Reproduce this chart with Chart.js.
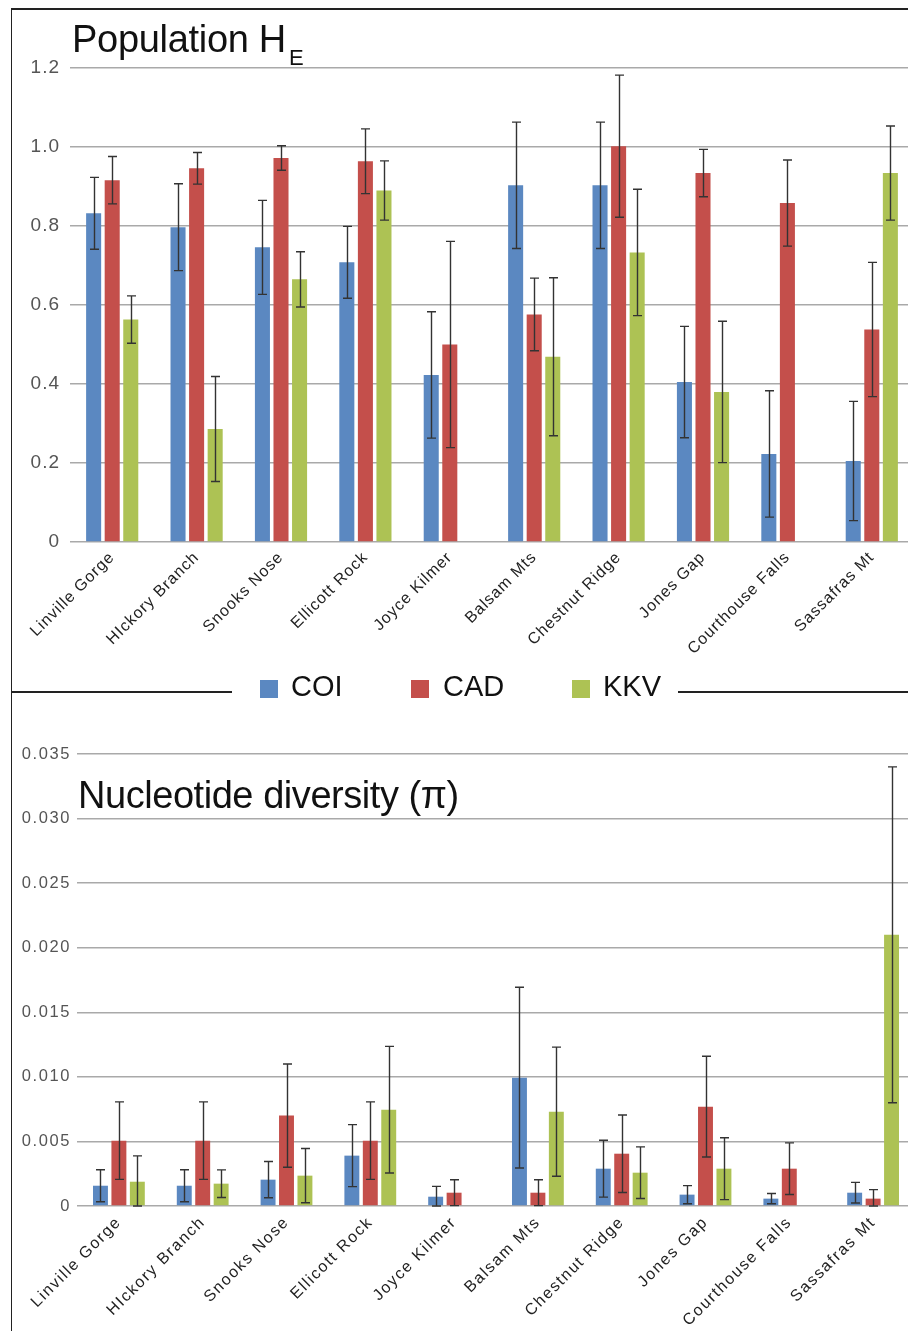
<!DOCTYPE html>
<html>
<head>
<meta charset="utf-8">
<script src="https://cdn.jsdelivr.net/npm/chart.js@4/dist/chart.umd.min.js"></script>
<style>
html,body{margin:0;padding:0;background:#fff;}
#wrap{position:relative;width:908px;height:1331px;overflow:hidden;font-family:"Liberation Sans",Arial,Helvetica,sans-serif;}
canvas{position:absolute;left:0;}
#c1{top:0;}
#c2{top:700px;}
.ln{position:absolute;background:#222;z-index:5;}
.title{position:absolute;z-index:6;color:#111;line-height:1;white-space:nowrap;}
.sw{position:absolute;width:18px;height:18px;z-index:6;}
.lt{position:absolute;z-index:6;font-size:29px;line-height:1;color:#111;white-space:nowrap;}
</style>
</head>
<body>
<div id="wrap">
  <canvas id="c1" width="916" height="660"></canvas>
  <canvas id="c2" width="916" height="631"></canvas>
  <div class="ln" style="left:11px;top:8px;width:897px;height:1.5px;"></div>
  <div class="ln" style="left:10.5px;top:8px;width:1.5px;height:1323px;"></div>
  <div class="ln" style="left:11px;top:691px;width:221px;height:1.5px;"></div>
  <div class="ln" style="left:678px;top:691px;width:230px;height:1.5px;"></div>
  <div class="title" style="left:72px;top:20px;font-size:38px;letter-spacing:-0.3px;">Population H</div>
  <div class="title" style="left:289px;top:47px;font-size:22px;">E</div>
  <div class="title" style="left:78px;top:776px;font-size:38px;letter-spacing:-0.45px;">Nucleotide diversity (π)</div>
  <div id="legend"></div>
</div>
<script>
// ---- data ----
const sites = ["Linville Gorge","HIckory Branch","Snooks Nose","Ellicott Rock","Joyce Kilmer","Balsam Mts","Chestnut Ridge","Jones Gap","Courthouse Falls","Sassafras Mt"];
const seriesNames = ["COI","CAD","KKV"];
const seriesColors = ["#5B88C1","#C44F4B","#ADC254"];

// Population HE
const heCOI = [0.832,0.797,0.746,0.708,0.423,0.903,0.903,0.405,0.223,0.205];
const heCAD = [0.916,0.946,0.972,0.964,0.500,0.576,1.002,0.934,0.858,0.538];
const heKKV = [0.563,0.286,0.665,0.890,0,0.469,0.733,0.380,0,0.934];
const heCOIerr = [0.091,0.110,0.119,0.091,0.160,0.160,0.160,0.141,0.160,0.151];
const heCADerr = [0.060,0.040,0.031,0.082,0.261,0.092,0.180,0.060,0.109,0.170];
const heKKVerr = [0.060,0.133,0.070,0.075,0,0.200,0.160,0.179,0,0.119];
const heTicks = [0,0.2,0.4,0.6,0.8,1.0,1.2];

// Nucleotide diversity (pi)
const piCOI = [0.00157,0.00157,0.00204,0.0039,0.00072,0.00994,0.00289,0.00088,0.00057,0.00103];
const piCAD = [0.00506,0.00506,0.0070,0.00506,0.00103,0.00103,0.00405,0.00769,0.00289,0.00057];
const piKKV = [0.00188,0.00173,0.00235,0.00746,0,0.0073,0.00258,0.00289,0,0.0210];
const piCOIerr = [0.00124,0.00124,0.0014,0.0024,0.0008,0.0070,0.0022,0.0007,0.0004,0.0008];
const piCADerr = [0.003,0.003,0.004,0.003,0.001,0.001,0.003,0.0039,0.002,0.0007];
const piKKVerr = [0.002,0.00107,0.0021,0.0049,0,0.005,0.002,0.0024,0,0.013];
const piTicks = [0,0.005,0.010,0.015,0.020,0.025,0.030,0.035];

// ---- legend (HTML) ----
const legendPos = [[260,291],[411,443],[572,603]];
const lg = document.getElementById('legend');
seriesNames.forEach((n,i)=>{
  const s = document.createElement('div'); s.className='sw';
  s.style.left = legendPos[i][0]+'px'; s.style.top='680px'; s.style.background=seriesColors[i];
  const t = document.createElement('div'); t.className='lt';
  t.style.left = legendPos[i][1]+'px'; t.style.top='672px'; t.textContent=n;
  lg.appendChild(s); lg.appendChild(t);
});

// ---- plugins ----
Chart.defaults.font.family = '"Liberation Sans", Arial, Helvetica, sans-serif';

const errorBars = {
  id:'errorBars',
  afterDatasetsDraw(chart, args, opts){
    const ctx = chart.ctx, ys = chart.scales.y;
    ctx.save();
    ctx.strokeStyle = opts.color || '#333';
    ctx.lineWidth = opts.width || 1.4;
    const cap = opts.cap || 4.5;
    chart.data.datasets.forEach((ds,di)=>{
      const meta = chart.getDatasetMeta(di);
      meta.data.forEach((bar,i)=>{
        const e = ds.errors[i];
        if(!e) return;
        const v = ds.data[i];
        const yHi = ys.getPixelForValue(v+e);
        const yLo = ys.getPixelForValue(Math.max(0, v-e));
        const x = Math.round(bar.x)+0.5;
        ctx.beginPath();
        ctx.moveTo(x,yHi); ctx.lineTo(x,yLo);
        ctx.moveTo(x-cap,yHi); ctx.lineTo(x+cap,yHi);
        ctx.moveTo(x-cap,yLo); ctx.lineTo(x+cap,yLo);
        ctx.stroke();
      });
    });
    ctx.restore();
  }
};

const spacing = {
  id:'spacing',
  beforeDraw(chart, args, opts){ chart.ctx.letterSpacing = opts.value || '0px'; },
  afterDraw(chart){ chart.ctx.letterSpacing = '0px'; }
};

function makeDatasets(vals, errs){
  return seriesNames.map((n,i)=>({
    label:n, data:vals[i], errors:errs[i],
    backgroundColor:seriesColors[i], borderWidth:0,
    categoryPercentage:0.66, barPercentage:0.81
  }));
}

function makeChart(id, vals, errs, tickVals, fmt, cfg){
  return new Chart(document.getElementById(id), {
    type:'bar',
    data:{ labels:sites, datasets:makeDatasets(vals, errs) },
    plugins:[errorBars, spacing],
    options:{
      responsive:false, animation:false,
      layout:{ padding:{ top:cfg.padTop, right:cfg.padRight, left:0, bottom:0 } },
      plugins:{ legend:{display:false}, tooltip:{enabled:false}, title:{display:false},
        errorBars:{ color:'#333', width:1.4, cap:4.5 },
        spacing:{ value:cfg.spacing } },
      scales:{
        x:{
          grid:{ display:false, drawTicks:false }, border:{ display:false },
          ticks:{ minRotation:45, maxRotation:45, autoSkip:false, color:'#222', font:{ size:16 }, padding:cfg.xPad },
          afterFit(s){ s.height = cfg.xHeight; }
        },
        y:{
          min:0, max:tickVals[tickVals.length-1],
          afterBuildTicks(s){ s.ticks = tickVals.map(v=>({value:v})); },
          grid:{ color:'#a9a9a9', lineWidth:1.5, drawTicks:false }, border:{ display:false },
          ticks:{ color:'#555', font:{ size:cfg.yFont }, padding:cfg.yPad, callback:fmt },
          afterFit(s){ s.width = cfg.yWidth; }
        }
      }
    }
  });
}

makeChart('c1', [heCOI,heCAD,heKKV], [heCOIerr,heCADerr,heKKVerr], heTicks,
  v => v===0 ? '0' : Number(v).toFixed(1),
  { padTop:68, padRight:2, xHeight:118, yWidth:70, yFont:19, yPad:10, xPad:6, spacing:'1px' });

makeChart('c2', [piCOI,piCAD,piKKV], [piCOIerr,piCADerr,piKKVerr], piTicks,
  v => v===0 ? '0' : Number(v).toFixed(3),
  { padTop:54, padRight:1, xHeight:125, yWidth:77, yFont:16.5, yPad:6, xPad:7, spacing:'1.6px' });
</script>
</body>
</html>
